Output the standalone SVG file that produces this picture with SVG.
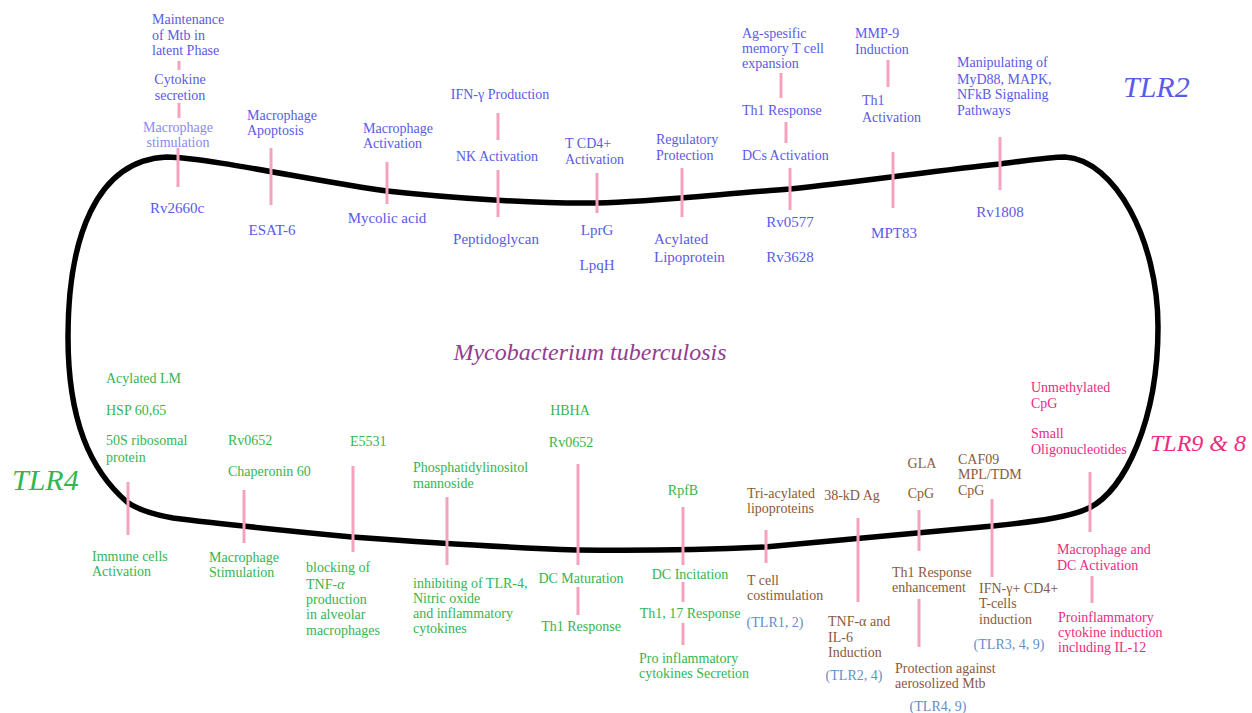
<svg xmlns="http://www.w3.org/2000/svg" width="1252" height="713" viewBox="0 0 1252 713">
<style>
text{font-family:"Liberation Serif","Times New Roman",serif;font-size:14px}
.b{fill:#5a5ae8}
.bl{fill:#8a8aee}
.g{fill:#35b54f}
.br{fill:#8a5a3a}
.s{fill:#5f8fc8}
.p{fill:#ee2a80}
.m{text-anchor:middle}
.n{font-size:15px}
.big{font-style:italic;font-size:30px}
.tick line{stroke:#f5a3bc;stroke-width:3}
</style>
<rect width="1252" height="713" fill="#ffffff"/>
<g id="cell">
<path d="M167,157 C210,158 320,182 387,191 C450,198 540,204 597,203 C650,202 720,194 790,189 C860,182 940,170 1000,164 C1030,160 1050,157 1065,157 C1115,160 1158,240 1158,327 C1158,420 1125,490 1089,508 C1070,517 1040,521 993,526 C940,531 840,540 765,547 C700,550 640,551 577,550 C520,548 420,542 352,537 C290,531 220,524 173,518 C150,514 137,509 127,502 C90,470 68,420 68,337 C68,240 95,160 167,157 Z" fill="none" stroke="#000" stroke-width="5.5" stroke-linejoin="round"/>
</g>
<g id="connectors" class="tick">
<line x1="179" y1="61" x2="179" y2="70"/>
<line x1="179" y1="103" x2="179" y2="118"/>
<line x1="178" y1="148" x2="178" y2="187"/>
<line x1="271" y1="148" x2="271" y2="205"/>
<line x1="387" y1="162" x2="387" y2="204"/>
<line x1="498" y1="113" x2="498" y2="140"/>
<line x1="498" y1="170" x2="498" y2="217"/>
<line x1="597" y1="173" x2="597" y2="213"/>
<line x1="682" y1="168" x2="682" y2="217"/>
<line x1="781" y1="73" x2="781" y2="98"/>
<line x1="786" y1="122" x2="786" y2="143"/>
<line x1="790" y1="168" x2="790" y2="210"/>
<line x1="888" y1="60" x2="888" y2="87"/>
<line x1="893" y1="152" x2="893" y2="208"/>
<line x1="1000" y1="137" x2="1000" y2="190"/>
<line x1="128" y1="482" x2="128" y2="535"/>
<line x1="244" y1="490" x2="244" y2="543"/>
<line x1="353" y1="466" x2="353" y2="552"/>
<line x1="447" y1="497" x2="447" y2="565"/>
<line x1="578" y1="464" x2="578" y2="565"/>
<line x1="578" y1="587" x2="578" y2="615"/>
<line x1="683" y1="507" x2="683" y2="565"/>
<line x1="683" y1="582" x2="683" y2="602"/>
<line x1="683" y1="623" x2="683" y2="645"/>
<line x1="766" y1="530" x2="766" y2="563"/>
<line x1="858" y1="518" x2="858" y2="602"/>
<line x1="919" y1="510" x2="919" y2="551"/>
<line x1="919" y1="599" x2="919" y2="647"/>
<line x1="992" y1="499" x2="992" y2="577"/>
<line x1="1090" y1="472" x2="1090" y2="532"/>
<line x1="1092" y1="576" x2="1092" y2="603"/>
</g>
<g id="title"><text x="590" y="360" class="m" style="font-style:italic;font-size:24px;fill:#933d91">Mycobacterium tuberculosis</text></g>
<g id="tlr2-label"><text x="1123" y="97" class="b big">TLR2</text></g>
<g id="tlr4-label"><text x="12" y="490" class="g big">TLR4</text></g>
<g id="tlr98-label"><text x="1150" y="451" class="p" style="font-style:italic;font-size:24px">TLR9 &amp; 8</text></g>

<g id="rv2660c" class="b">
<text x="152" y="24">Maintenance</text><text x="152" y="40">of Mtb in</text><text x="152" y="55">latent Phase</text>
<text x="180" y="84" class="m">Cytokine</text><text x="180" y="100" class="m">secretion</text>
<text x="178" y="132" class="m bl">Macrophage</text><text x="178" y="147" class="m bl">stimulation</text>
<text x="177" y="213" class="m n">Rv2660c</text>
</g>
<g id="esat6" class="b">
<text x="247" y="120">Macrophage</text><text x="247" y="135">Apoptosis</text>
<text x="272" y="235" class="m n">ESAT-6</text>
</g>
<g id="mycolic" class="b">
<text x="363" y="133">Macrophage</text><text x="363" y="148">Activation</text>
<text x="387" y="223" class="m n">Mycolic acid</text>
</g>
<g id="peptidoglycan" class="b">
<text x="500" y="99" class="m">IFN-γ Production</text>
<text x="497" y="161" class="m">NK Activation</text>
<text x="496" y="244" class="m n">Peptidoglycan</text>
</g>
<g id="lprg" class="b">
<text x="565" y="148">T CD4+</text><text x="565" y="164">Activation</text>
<text x="597" y="235" class="m n">LprG</text><text x="597" y="270" class="m n">LpqH</text>
</g>
<g id="acylated-lipoprotein" class="b">
<text x="656" y="144">Regulatory</text><text x="656" y="160">Protection</text>
<text x="654" y="244" class="n">Acylated</text><text x="654" y="262" class="n">Lipoprotein</text>
</g>
<g id="rv0577" class="b">
<text x="742" y="38">Ag-spesific</text><text x="742" y="53">memory T cell</text><text x="742" y="68">expansion</text>
<text x="742" y="115">Th1 Response</text>
<text x="742" y="160">DCs Activation</text>
<text x="790" y="227" class="m n">Rv0577</text><text x="790" y="262" class="m n">Rv3628</text>
</g>
<g id="mpt83" class="b">
<text x="855" y="38">MMP-9</text><text x="855" y="54">Induction</text>
<text x="862" y="105">Th1</text><text x="862" y="122">Activation</text>
<text x="894" y="238" class="m n">MPT83</text>
</g>
<g id="rv1808" class="b">
<text x="957" y="67">Manipulating of</text><text x="957" y="84">MyD88, MAPK,</text><text x="957" y="99">NFkB Signaling</text><text x="957" y="115">Pathways</text>
<text x="1000" y="217" class="m n">Rv1808</text>
</g>

<g id="acylated-lm" class="g">
<text x="106" y="383">Acylated LM</text><text x="106" y="415">HSP 60,65</text><text x="106" y="445">50S ribosomal</text><text x="106" y="462">protein</text>
<text x="92" y="561">Immune cells</text><text x="92" y="576">Activation</text>
</g>
<g id="chaperonin" class="g">
<text x="228" y="445">Rv0652</text><text x="228" y="476">Chaperonin 60</text>
<text x="209" y="562">Macrophage</text><text x="209" y="577">Stimulation</text>
</g>
<g id="e5531" class="g">
<text x="350" y="446">E5531</text>
<text x="306" y="572">blocking of</text><text x="306" y="589">TNF-<tspan font-style="italic">α</tspan></text><text x="306" y="604">production</text><text x="306" y="619">in alveolar</text><text x="306" y="635">macrophages</text>
</g>
<g id="pim" class="g">
<text x="413" y="472">Phosphatidylinositol</text><text x="413" y="488">mannoside</text>
<text x="413" y="588">inhibiting of TLR-4,</text><text x="413" y="603">Nitric oxide</text><text x="413" y="618">and inflammatory</text><text x="413" y="633">cytokines</text>
</g>
<g id="hbha" class="g">
<text x="570" y="415" class="m">HBHA</text><text x="571" y="447" class="m">Rv0652</text>
<text x="581" y="583" class="m">DC Maturation</text>
<text x="581" y="631" class="m">Th1 Response</text>
</g>
<g id="rpfb" class="g">
<text x="683" y="495" class="m">RpfB</text>
<text x="690" y="579" class="m">DC Incitation</text>
<text x="690" y="618" class="m">Th1, 17 Response</text>
<text x="639" y="663">Pro inflammatory</text><text x="639" y="678">cytokines Secretion</text>
</g>

<g id="tri-acylated" class="br">
<text x="747" y="498">Tri-acylated</text><text x="747" y="513">lipoproteins</text>
<text x="747" y="585">T cell</text><text x="747" y="600">costimulation</text>
<text x="775" y="627" class="m s">(TLR1, 2)</text>
</g>
<g id="ag38" class="br">
<text x="852" y="500" class="m">38-kD Ag</text>
<text x="828" y="626">TNF-α and</text><text x="828" y="642">IL-6</text><text x="828" y="657">Induction</text>
<text x="854" y="680" class="m s">(TLR2, 4)</text>
</g>
<g id="gla" class="br">
<text x="922" y="468" class="m">GLA</text><text x="921" y="498" class="m">CpG</text>
<text x="892" y="577">Th1 Response</text><text x="892" y="592">enhancement</text>
<text x="895" y="673">Protection against</text><text x="895" y="688">aerosolized Mtb</text>
<text x="938" y="711" class="m s">(TLR4, 9)</text>
</g>
<g id="caf09" class="br">
<text x="958" y="464">CAF09</text><text x="958" y="479">MPL/TDM</text><text x="958" y="495">CpG</text>
<text x="979" y="593">IFN-γ+ CD4+</text><text x="979" y="608">T-cells</text><text x="979" y="624">induction</text>
<text x="1009" y="649" class="m s">(TLR3, 4, 9)</text>
</g>

<g id="cpg" class="p">
<text x="1031" y="392">Unmethylated</text><text x="1031" y="408">CpG</text>
<text x="1031" y="438">Small</text><text x="1031" y="454">Oligonucleotides</text>
<text x="1057" y="554">Macrophage and</text><text x="1057" y="570">DC Activation</text>
<text x="1058" y="622">Proinflammatory</text><text x="1058" y="637">cytokine induction</text><text x="1058" y="652">including IL-12</text>
</g>
</svg>
